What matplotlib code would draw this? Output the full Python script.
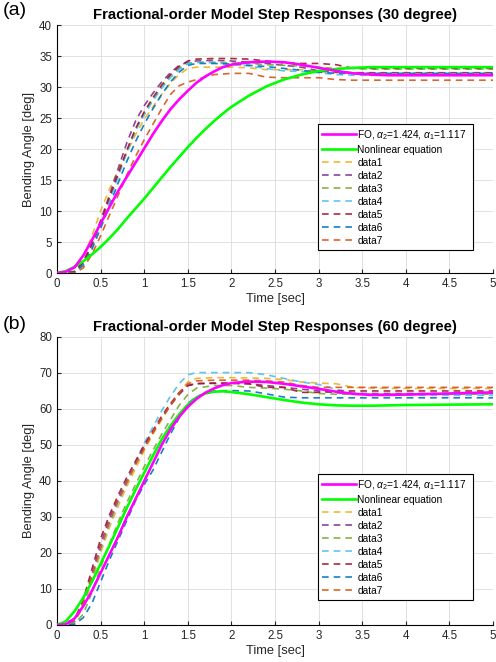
import matplotlib
matplotlib.use('Agg')
import matplotlib.pyplot as plt
import numpy as np

plt.rcParams['font.family'] = ['Liberation Sans', 'DejaVu Sans']
plt.rcParams['mathtext.fontset'] = 'custom'
plt.rcParams['mathtext.it'] = 'Liberation Sans:italic'
plt.rcParams['mathtext.rm'] = 'Liberation Sans'

# model curves (time grid shared)
t_model = [0, 0.1, 0.2, 0.3, 0.4, 0.5, 0.6, 0.7, 0.8, 0.9, 1.0, 1.1, 1.2, 1.3, 1.4, 1.5,
           1.6, 1.7, 1.8, 1.9, 2.0, 2.2, 2.4, 2.6, 2.8, 3.0, 3.2, 3.4, 3.6, 3.8, 4.0, 4.5, 5.0]

fo_30 = [0, 0.2, 0.9, 2.8, 5.3, 8.0, 10.6, 13.2, 15.5, 17.8, 20.1, 22.4, 24.5, 26.4, 28.0, 29.4,
         30.7, 31.7, 32.5, 33.2, 33.6, 34.0, 34.1, 34.0, 33.6, 33.1, 32.6, 32.2, 32.0, 31.9, 31.9, 31.9, 31.9]
nl_30 = [0, 0.3, 1.0, 1.9, 3.0, 4.2, 5.6, 7.1, 8.8, 10.4, 12.0, 13.7, 15.4, 17.1, 18.7, 20.3,
         21.8, 23.2, 24.5, 25.7, 26.8, 28.6, 30.1, 31.2, 32.0, 32.6, 32.9, 33.1, 33.2, 33.2, 33.2, 33.2, 33.2]

fo_60 = [0, 0.2, 1.8, 5.2, 9.5, 14.5, 19.5, 24.5, 30.0, 35.0, 40.0, 45.0, 50.0, 54.3, 57.8, 60.6,
         62.8, 64.5, 65.7, 66.6, 67.2, 67.6, 67.5, 67.0, 66.3, 65.6, 64.8, 64.2, 63.9, 63.9, 64.0, 64.3, 64.6]
nl_60 = [0, 1.0, 3.8, 7.5, 12.0, 17.0, 22.0, 27.2, 32.5, 37.5, 42.3, 47.0, 51.5, 55.3, 58.5, 61.2,
         63.2, 64.3, 64.8, 64.9, 64.7, 64.1, 63.3, 62.5, 61.8, 61.3, 61.0, 60.9, 60.9, 61.0, 61.1, 61.2, 61.3]

# experiment data (time grid shared)
t_exp = [0, 0.2, 0.3, 0.4, 0.5, 0.6, 0.7, 0.8, 0.9, 1.0, 1.1, 1.2, 1.3, 1.4, 1.5, 1.6,
         1.8, 2.0, 2.2, 2.4, 2.6, 2.8, 3.0, 3.2, 3.4, 3.6, 4.0, 4.5, 5.0]

d30_1 = [0, 0.3, 2.5, 6.0, 10.0, 13.5, 16.5, 19.5, 22.3, 24.8, 26.8, 28.8, 30.6, 32.0, 33.0, 33.2,
         33.2, 33.2, 33.1, 32.8, 32.8, 32.8, 32.5, 32.3, 32.3, 32.3, 32.3, 32.3, 32.3]
d30_2 = [0, 0.2, 1.8, 4.8, 8.5, 12.5, 16.8, 21.0, 24.5, 27.0, 29.0, 30.8, 32.3, 33.5, 34.0, 34.2,
         34.3, 34.2, 34.0, 33.8, 33.5, 33.2, 32.6, 32.4, 32.3, 32.3, 32.3, 32.3, 32.3]
d30_3 = [0, 0.2, 1.6, 4.5, 8.0, 12.0, 15.8, 19.5, 23.0, 25.8, 28.0, 30.0, 31.8, 33.0, 33.8, 34.0,
         34.0, 33.9, 33.8, 33.6, 33.5, 33.4, 33.2, 33.0, 33.0, 32.9, 32.9, 32.9, 32.9]
d30_4 = [0, 0.1, 1.5, 4.2, 7.8, 11.5, 15.5, 19.5, 23.0, 25.5, 27.8, 29.8, 31.5, 32.8, 33.8, 34.0,
         33.9, 33.7, 33.4, 33.0, 32.6, 32.5, 32.3, 32.0, 31.9, 31.9, 31.9, 31.9, 31.9]
d30_5 = [0, 0.2, 1.7, 4.6, 8.2, 12.2, 16.0, 19.8, 23.3, 26.0, 28.3, 30.3, 32.0, 33.3, 34.2, 34.5,
         34.6, 34.6, 34.5, 34.2, 33.9, 33.8, 33.8, 33.6, 33.0, 33.0, 33.0, 33.0, 33.0]
d30_6 = [0, 0.1, 1.2, 3.8, 7.2, 10.8, 14.5, 18.0, 21.2, 24.0, 26.5, 28.8, 30.8, 32.4, 33.5, 33.8,
         33.8, 33.7, 33.5, 33.3, 33.0, 32.7, 32.4, 32.2, 32.2, 32.2, 32.2, 32.2, 32.2]
d30_7 = [0, 0, 0.8, 3.0, 6.0, 9.3, 12.5, 15.8, 18.8, 21.5, 24.0, 26.5, 28.8, 30.2, 30.8, 31.2,
         32.0, 32.2, 32.2, 31.6, 31.5, 31.5, 31.5, 31.2, 31.1, 31.1, 31.1, 31.1, 31.1]

d60_1 = [0, 0.8, 5.0, 12.0, 20.0, 27.0, 33.0, 38.5, 43.5, 48.5, 53.0, 57.0, 61.0, 64.5, 67.5, 68.5,
         68.7, 68.7, 68.6, 68.5, 68.2, 67.5, 67.2, 67.0, 66.0, 65.8, 65.7, 65.7, 65.7]
d60_2 = [0, 1.0, 6.0, 14.0, 22.5, 29.5, 35.0, 40.0, 45.0, 49.5, 53.5, 57.5, 61.0, 64.0, 66.5, 67.0,
         67.2, 67.2, 67.0, 66.5, 66.0, 65.5, 65.0, 64.5, 64.3, 64.3, 64.3, 64.3, 64.3]
d60_3 = [0, 0.3, 3.0, 9.0, 16.0, 22.5, 28.5, 34.0, 39.0, 44.0, 48.5, 53.0, 57.0, 61.0, 64.0, 65.8,
         66.5, 66.5, 66.0, 65.8, 65.5, 65.0, 64.3, 64.1, 64.1, 64.1, 64.1, 64.1, 64.1]
d60_4 = [0, 0.8, 5.5, 13.0, 21.0, 28.0, 34.0, 39.5, 45.0, 50.5, 55.0, 59.5, 63.5, 67.0, 69.5, 70.1,
         70.1, 70.1, 70.1, 69.5, 68.5, 67.5, 66.8, 65.5, 64.5, 64.0, 63.8, 63.8, 63.8]
d60_5 = [0, 1.5, 7.0, 15.5, 24.0, 30.5, 36.0, 41.0, 45.5, 50.0, 54.0, 58.0, 61.5, 64.5, 66.5, 67.1,
         67.1, 67.1, 67.0, 66.0, 66.0, 64.6, 64.6, 65.0, 65.0, 65.0, 65.0, 65.0, 65.0]
d60_6 = [0, 0.2, 2.0, 6.0, 12.0, 18.0, 23.5, 29.0, 34.5, 39.0, 43.0, 48.0, 53.0, 57.5, 61.5, 63.5,
         65.0, 65.1, 65.0, 64.2, 63.3, 63.1, 63.1, 63.1, 63.1, 63.1, 63.1, 63.1, 63.1]
d60_7 = [0, 1.0, 6.0, 13.5, 21.5, 28.5, 34.5, 39.5, 44.5, 49.0, 53.5, 57.5, 61.0, 64.5, 67.0, 67.8,
         68.0, 68.0, 68.0, 67.8, 67.5, 66.5, 66.0, 66.0, 66.0, 66.0, 66.0, 66.0, 66.0]

data_colors = ['#EDB120', '#7E2F8E', '#77AC30', '#4DBEEE', '#A2142F', '#0072BD', '#D95319']
data_30 = [d30_1, d30_2, d30_3, d30_4, d30_5, d30_6, d30_7]
data_60 = [d60_1, d60_2, d60_3, d60_4, d60_5, d60_6, d60_7]

fo_label = r'FO, $\alpha_2$=1.424, $\alpha_1$=1.117'

fig = plt.figure(figsize=(4.96, 6.62), dpi=100)
ax1 = fig.add_axes([0.115, 0.5876, 0.879, 0.3746])
ax2 = fig.add_axes([0.115, 0.0559, 0.879, 0.4351])


def draw(ax, fo, nl, data, ymax, title, leg_box):
    ax.plot(t_model, fo, color='#FF00FF', lw=1.9, label=fo_label, zorder=5)
    ax.plot(t_model, nl, color='#00FF00', lw=1.9, label='Nonlinear equation', zorder=4)
    for i, d in enumerate(data):
        ax.plot(t_exp, d, color=data_colors[i], lw=1.2, ls=(0, (4, 3)), alpha=0.9,
                label='data%d' % (i + 1))
    ax.set_xlim(0, 5)
    ax.set_ylim(0, ymax)
    ax.set_xticks(np.arange(0, 5.01, 0.5))
    ax.set_xticklabels(['0', '0.5', '1', '1.5', '2', '2.5', '3', '3.5', '4', '4.5', '5'])
    ax.grid(True, color='#DCDCDC', lw=0.6)
    ax.set_axisbelow(True)
    ax.spines['top'].set_visible(False)
    ax.spines['right'].set_visible(False)
    ax.tick_params(direction='in', labelsize=8.3, length=3, colors='#262626')
    ax.set_xlabel('Time [sec]', fontsize=9.3, color='#262626', labelpad=2)
    ax.set_ylabel('Bending Angle [deg]', fontsize=9.3, color='#262626', labelpad=3)
    ax.set_title(title, fontsize=10.7, fontweight='bold', pad=4)
    leg = ax.legend(loc='lower left', bbox_to_anchor=leg_box, mode='expand', fontsize=7.3,
                    handlelength=3.3, handletextpad=0.15, borderaxespad=0, labelspacing=0.3,
                    fancybox=False, framealpha=1, borderpad=0.4)
    leg.get_frame().set_edgecolor('black')
    leg.get_frame().set_linewidth(0.8)


draw(ax1, fo_30, nl_30, data_30, 40, 'Fractional-order Model Step Responses (30 degree)',
     (0.599, 0.093, 0.355, 0.532))
draw(ax2, fo_60, nl_60, data_60, 80, 'Fractional-order Model Step Responses (60 degree)',
     (0.599, 0.087, 0.355, 0.462))

fig.text(0.005, 0.997, '(a)', fontsize=14, va='top', ha='left')
fig.text(0.005, 0.522, '(b)', fontsize=14, va='top', ha='left')

fig.savefig('out.png', dpi=100)
